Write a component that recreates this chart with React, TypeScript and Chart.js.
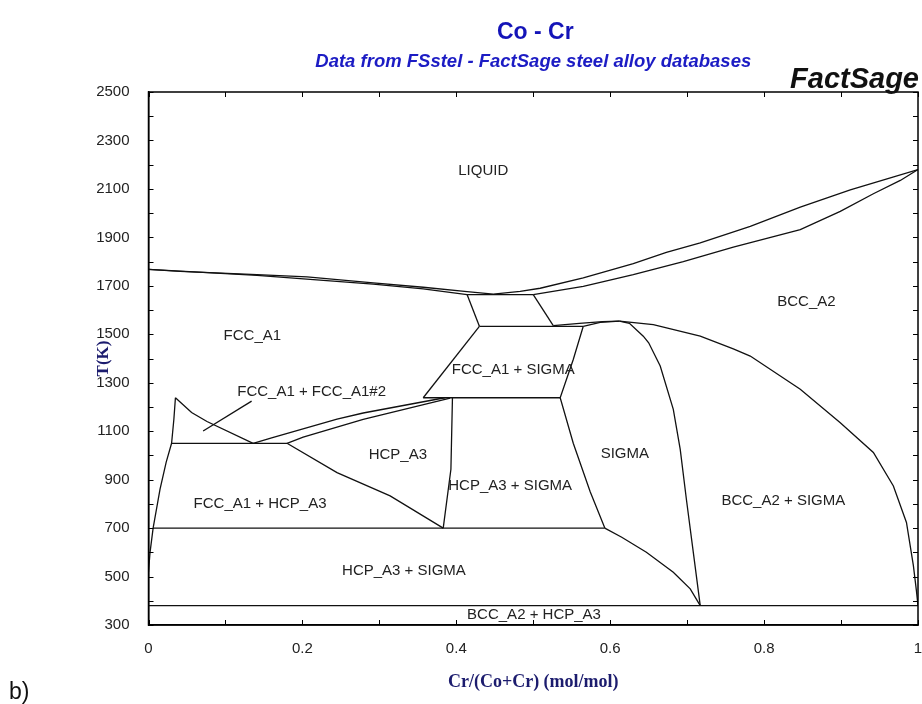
import React, { useEffect, useRef } from "react";
import { Chart, registerables } from "chart.js";

Chart.register(...registerables);

// ---- axis ticks ----
const xTickLabels = [0, 0.2, 0.4, 0.6, 0.8, 1];
const yTickLabels = [300, 500, 700, 900, 1100, 1300, 1500, 1700, 1900, 2100, 2300, 2500];
const xTickMarks = [0, 0.1, 0.2, 0.3, 0.4, 0.5, 0.6, 0.7, 0.8, 0.9, 1];
const yTickMarks = [300, 400, 500, 600, 700, 800, 900, 1000, 1100, 1200, 1300, 1400, 1500, 1600, 1700, 1800, 1900, 2000, 2100, 2200, 2300, 2400, 2500];

// ---- phase boundaries: [Cr/(Co+Cr), T(K)] ----
const liquidusFcc = [[0, 1768], [0.041, 1760], [0.141, 1746], [0.206, 1737], [0.292, 1712], [0.357, 1694], [0.414, 1676], [0.448, 1666]];
const solidusFcc = [[0, 1768], [0.141, 1743], [0.292, 1707], [0.357, 1687], [0.414, 1664]];
const liquidusBcc = [[0.448, 1666], [0.483, 1677], [0.509, 1690], [0.565, 1733], [0.630, 1792], [0.673, 1838], [0.717, 1877], [0.782, 1945], [0.847, 2025], [0.912, 2096], [0.963, 2145], [1, 2180]];
const solidusBcc = [[0.500, 1664], [0.565, 1698], [0.630, 1746], [0.695, 1800], [0.760, 1860], [0.847, 1932], [0.899, 2007], [0.942, 2080], [0.977, 2135], [1, 2180]];
const eutecticLine = [[0.414, 1664], [0.500, 1664]];
const fccSolvusHigh = [[0.414, 1664], [0.430, 1533]];
const bccSolvusHigh = [[0.500, 1664], [0.526, 1536]];
const line1533 = [[0.430, 1533], [0.565, 1533]];
const bccSigmaLeft = [[0.526, 1536], [0.560, 1545], [0.590, 1552], [0.612, 1554]];
const sigmaLeftTop = [[0.565, 1533], [0.587, 1549], [0.612, 1554]];
const sigmaRight = [[0.612, 1554], [0.625, 1545], [0.643, 1492], [0.650, 1465], [0.665, 1369], [0.682, 1190], [0.691, 1025], [0.699, 819], [0.708, 600], [0.717, 380]];
const bccSolvusRight = [[0.612, 1554], [0.656, 1540], [0.717, 1492], [0.760, 1440], [0.782, 1410], [0.847, 1273], [0.899, 1135], [0.942, 1012], [0.968, 874], [0.985, 723], [0.994, 545], [0.998, 440], [1, 380]];
const sigmaLeft = [[0.565, 1533], [0.552, 1396], [0.535, 1238], [0.552, 1050], [0.574, 850], [0.593, 700]];
const sigmaLow = [[0.593, 700], [0.615, 662], [0.647, 600], [0.682, 518], [0.704, 449], [0.717, 380]];
const fccSigmaLeft = [[0.430, 1533], [0.357, 1238]];
const line1238 = [[0.357, 1238], [0.535, 1238]];
const hcpSigmaBoundary = [[0.395, 1238], [0.393, 943], [0.383, 700]];
const fccHcpUpper = [[0.136, 1050], [0.160, 1072], [0.245, 1150], [0.279, 1175], [0.385, 1238]];
const fccHcpLower = [[0.180, 1050], [0.201, 1075], [0.279, 1149], [0.392, 1236]];
const hcpLowerBoundary = [[0.180, 1050], [0.245, 929], [0.314, 833], [0.383, 700]];
const line1050 = [[0.030, 1050], [0.180, 1050]];
const miscibilityGap = [[0.035, 1238], [0.056, 1177], [0.076, 1140], [0.136, 1050]];
const fccLeft = [[0, 519], [0.002, 600], [0.006, 700], [0.015, 861], [0.023, 972], [0.030, 1050], [0.033, 1150], [0.035, 1238]];
const line700 = [[0.006, 700], [0.593, 700]];
const line380 = [[0, 380], [1, 380]];
const leaderLine = [[0.071, 1101], [0.134, 1224]];

const boundaries = [
  liquidusFcc, solidusFcc, liquidusBcc, solidusBcc, eutecticLine, fccSolvusHigh, bccSolvusHigh,
  line1533, bccSigmaLeft, sigmaLeftTop, sigmaRight, bccSolvusRight, sigmaLeft, sigmaLow,
  fccSigmaLeft, line1238, hcpSigmaBoundary, fccHcpUpper, fccHcpLower, hcpLowerBoundary,
  line1050, miscibilityGap, fccLeft, line700, line380, leaderLine,
];

// ---- region labels: [text, x, T] ----
const regionLabels: [string, number, number][] = [
  ["LIQUID", 0.435, 2175],
  ["BCC_A2", 0.855, 1635],
  ["FCC_A1", 0.135, 1492],
  ["FCC_A1 + FCC_A1#2", 0.212, 1263],
  ["FCC_A1 + SIGMA", 0.474, 1355],
  ["HCP_A3", 0.324, 1001],
  ["HCP_A3 + SIGMA", 0.470, 874],
  ["SIGMA", 0.619, 1005],
  ["BCC_A2 + SIGMA", 0.825, 812],
  ["FCC_A1 + HCP_A3", 0.145, 799],
  ["HCP_A3 + SIGMA", 0.332, 523],
  ["BCC_A2 + HCP_A3", 0.501, 342],
];

const SANS = "'Liberation Sans', Arial, Helvetica, sans-serif";
const SERIF = "'Liberation Serif', 'Times New Roman', Times, serif";

export default function App() {
  const ref = useRef<HTMLCanvasElement>(null);

  useEffect(() => {
    const canvas = ref.current;
    if (!canvas) return;

    const datasets = boundaries.map((seg) => ({
      data: seg.map(([x, y]) => ({ x, y })),
      showLine: true,
      borderColor: "#111",
      borderWidth: 1.3,
      pointRadius: 0,
      pointHoverRadius: 0,
      fill: false,
      tension: 0,
    }));

    const overlay = {
      id: "overlay",
      afterDraw(chart: any) {
        const { ctx, chartArea } = chart;
        const xs = chart.scales.x;
        const ys = chart.scales.y;
        const { left, right, top, bottom } = chartArea;
        ctx.save();
        // frame
        ctx.strokeStyle = "#000";
        ctx.lineWidth = 1.5;
        ctx.strokeRect(left, top, right - left, bottom - top);
        // inward ticks
        ctx.lineWidth = 1;
        ctx.beginPath();
        xTickMarks.forEach((v) => {
          const px = Math.round(xs.getPixelForValue(v)) + 0.5;
          ctx.moveTo(px, bottom);
          ctx.lineTo(px, bottom - 5);
          ctx.moveTo(px, top);
          ctx.lineTo(px, top + 5);
        });
        yTickMarks.forEach((v) => {
          const py = Math.round(ys.getPixelForValue(v)) + 0.5;
          ctx.moveTo(left, py);
          ctx.lineTo(left + 5, py);
          ctx.moveTo(right, py);
          ctx.lineTo(right - 5, py);
        });
        ctx.stroke();

        // region labels
        ctx.fillStyle = "#222";
        ctx.font = `15px ${SANS}`;
        ctx.textAlign = "center";
        ctx.textBaseline = "middle";
        regionLabels.forEach(([t, x, y]) => {
          ctx.fillText(t, xs.getPixelForValue(x), ys.getPixelForValue(y));
        });

        // titles
        const cx = (left + right) / 2;
        ctx.fillStyle = "#1414b8";
        ctx.font = `bold 23px ${SANS}`;
        ctx.fillText("Co - Cr", cx + 2, 33);
        ctx.fillStyle = "#1c1cc4";
        ctx.font = `italic bold 18.5px ${SANS}`;
        ctx.fillText("Data from FSstel - FactSage steel alloy databases", cx, 62);
        ctx.fillStyle = "#111";
        ctx.font = `italic bold 29px ${SANS}`;
        ctx.textAlign = "right";
        ctx.textBaseline = "alphabetic";
        ctx.fillText("FactSage", 919, 88);
        ctx.textAlign = "left";
        ctx.font = `23px ${SANS}`;
        ctx.fillText("b)", 9, 699);
        ctx.restore();
      },
    };

    const chart = new Chart(canvas, {
      type: "scatter",
      data: { datasets },
      options: {
        responsive: false,
        animation: false,
        devicePixelRatio: 1,
        layout: { padding: { top: 92, right: 4, bottom: 0, left: 0 } },
        plugins: {
          legend: { display: false },
          tooltip: { enabled: false },
          title: { display: false },
        },
        scales: {
          x: {
            type: "linear",
            position: "bottom",
            min: 0,
            max: 1,
            afterBuildTicks: (s: any) => {
              s.ticks = xTickLabels.map((v) => ({ value: v }));
            },
            afterFit: (s: any) => {
              s.height = 79;
              s.paddingLeft = 0;
              s.paddingRight = 0;
            },
            grid: { display: false },
            border: { display: true, color: "#000", width: 1.5 },
            ticks: {
              padding: 7,
              color: "#222",
              autoSkip: false,
              maxRotation: 0,
              font: { family: SANS, size: 15 },
              callback: (v: any) => String(v),
            },
            title: {
              display: true,
              text: "Cr/(Co+Cr) (mol/mol)",
              color: "#1c1c6e",
              font: { family: SERIF, size: 18, weight: "bold" },
              padding: { top: 0, bottom: 11 },
            },
          },
          y: {
            type: "linear",
            position: "left",
            min: 300,
            max: 2500,
            afterBuildTicks: (s: any) => {
              s.ticks = yTickLabels.map((v) => ({ value: v }));
            },
            afterFit: (s: any) => {
              s.width = 148.5;
              s.paddingTop = 0;
              s.paddingBottom = 0;
            },
            grid: { display: false },
            border: { display: true, color: "#000", width: 1.5 },
            ticks: {
              padding: 11,
              color: "#222",
              autoSkip: false,
              font: { family: SANS, size: 15 },
              callback: (v: any) => String(v),
            },
            title: {
              display: true,
              text: "T(K)",
              color: "#1c1c6e",
              font: { family: SERIF, size: 17, weight: "bold" },
              padding: { top: 93, bottom: 0 },
            },
          },
        },
      },
      plugins: [overlay],
    } as any);

    return () => chart.destroy();
  }, []);

  return (
    <canvas
      ref={ref}
      width={922}
      height={704}
      style={{ position: "absolute", left: 0, top: 0, width: 922, height: 704, background: "#fff" }}
    />
  );
}
